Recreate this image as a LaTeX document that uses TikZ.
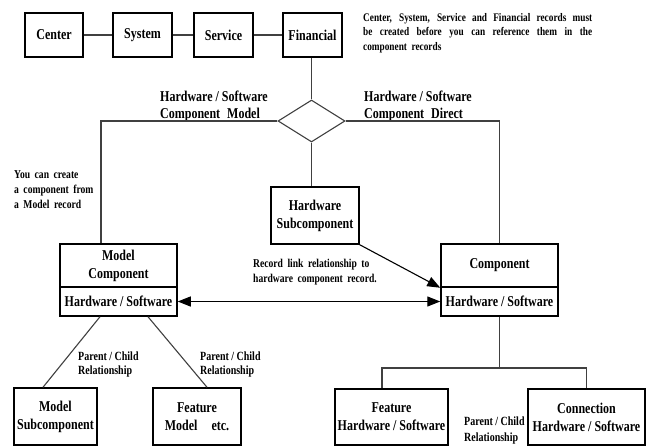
\documentclass[tikz,border=0pt]{standalone}
\usepackage{fontspec}
\setmainfont[FakeStretch=0.8]{Liberation Serif}
\usetikzlibrary{shapes.geometric,arrows.meta}
\begin{document}
\begin{tikzpicture}[x=1pt,y=-1pt,
  box/.style={draw=black,line width=1.5pt,inner sep=0pt,align=center,font=\bfseries\fontsize{15}{18}\selectfont},
  conn/.style={draw=black!75,line width=1.1pt},
  smalltxt/.style={font={\bfseries\fontsize{12}{15}\selectfont\spaceskip=4.5pt\relax},inner sep=0pt,align=left,anchor=base west},
  lbl/.style={font=\bfseries\fontsize{15}{17}\selectfont,inner sep=0pt,align=left,anchor=base west},
  tipb/.style={line width=1.1pt,draw=black,-{Triangle[length=13pt,width=10pt]}},
  tipbb/.style={line width=1.1pt,draw=black,{Triangle[length=13pt,width=10pt]}-{Triangle[length=13pt,width=10pt]}}
]
\useasboundingbox[fill=white] (0,0) rectangle (651,447);
% top row
\node[box,minimum width=58,minimum height=44] (center) at (54,35) {Center};
\node[box,minimum width=59,minimum height=44] (system) at (142.5,35) {System};
\node[box,minimum width=59,minimum height=44] (service) at (223.5,35) {Service};
\node[box,minimum width=59,minimum height=44] (financial) at (312.5,35) {Financial};
\draw[conn] (center) -- (system);
\draw[conn] (system) -- (service);
\draw[conn] (service) -- (financial);
\node[font=\bfseries\fontsize{11.6}{14.5}\selectfont,inner sep=0pt,anchor=base west,text width=229pt,align=justify] (note) at (363,21)
  {Center, System, Service and Financial records must\linebreak be created before you can reference them in the\linebreak component\ \ records};
% diamond
\node[draw=black!75,line width=1.1pt,shape=diamond,minimum width=67,minimum height=42,inner sep=0pt] (dia) at (311.5,121) {};
\draw[conn] (financial.south -| dia.north) -- (dia.north);
\node[lbl] (lblm) at (160,118) {Hardware / Software\\Component\hspace{4pt} Model};
\node[lbl] (lbld) at (364,118) {Hardware / Software\\Component\hspace{4pt} Direct};
% middle boxes
\node[box,minimum width=88,minimum height=57] (hsub) at (315,215.5) {Hardware\\Subcomponent};
\draw[conn] (dia.south) -- (dia.south |- hsub.north);
\node[box,minimum width=117,minimum height=43] (mctop) at (118.5,265.5) {Model\\Component};
\node[box,minimum width=117,minimum height=29] (mcbot) at (118.5,301.5) {Hardware / Software};
\node[box,minimum width=117,minimum height=43] (ctop) at (499.5,265.5) {Component};
\node[box,minimum width=117,minimum height=29] (cbot) at (499.5,301.5) {Hardware / Software};
\draw[conn] (dia.west) -| ([xshift=-17.5pt]mctop.north);
\draw[conn] (dia.east) -| (ctop.north);
\node[smalltxt] (create) at (14,208) {You can create\\a component from\\a Model record};
\node[smalltxt] (rec) at (253,282) {Record link relationship to\\hardware component record.};
\draw[tipb] (hsub.south east) -- (ctop.south west);
\draw[tipbb] (mcbot.east) -- (cbot.west);
% bottom left
\node[box,minimum width=83,minimum height=57] (msub) at (55.5,416.5) {Model\\Subcomponent};
\node[box,minimum width=88,minimum height=57] (fmodel) at (197,416.5) {Feature\\Model\hspace{14pt}etc.};
\draw[conn] ([xshift=-18.5pt]mcbot.south) -- ([xshift=-12.5pt]msub.north);
\draw[conn] ([xshift=29.5pt]mcbot.south) -- ([xshift=10pt]fmodel.north);
\node[smalltxt,font={\bfseries\fontsize{12.5}{14.5}\selectfont}] (pc1) at (78,374.5) {Parent / Child\\Relationship};
\node[smalltxt,font={\bfseries\fontsize{12.5}{14.5}\selectfont}] (pc2) at (200,374.5) {Parent / Child\\Relationship};
% bottom right
\node[box,minimum width=113,minimum height=56] (fhw) at (391.5,417) {Feature\\Hardware / Software};
\node[box,minimum width=117,minimum height=56] (connb) at (586.5,417) {Connection\\Hardware / Software};
\coordinate (bj) at (499.5,368);
\draw[conn] (cbot.south) -- (bj);
\draw[conn] ([xshift=-9.5pt]fhw.north) |- (bj) -| (connb.north);
\node[smalltxt,font={\bfseries\fontsize{12.5}{16}\selectfont}] (pc3) at (464,441) {Parent / Child\\Relationship};
\end{tikzpicture}
\end{document}
